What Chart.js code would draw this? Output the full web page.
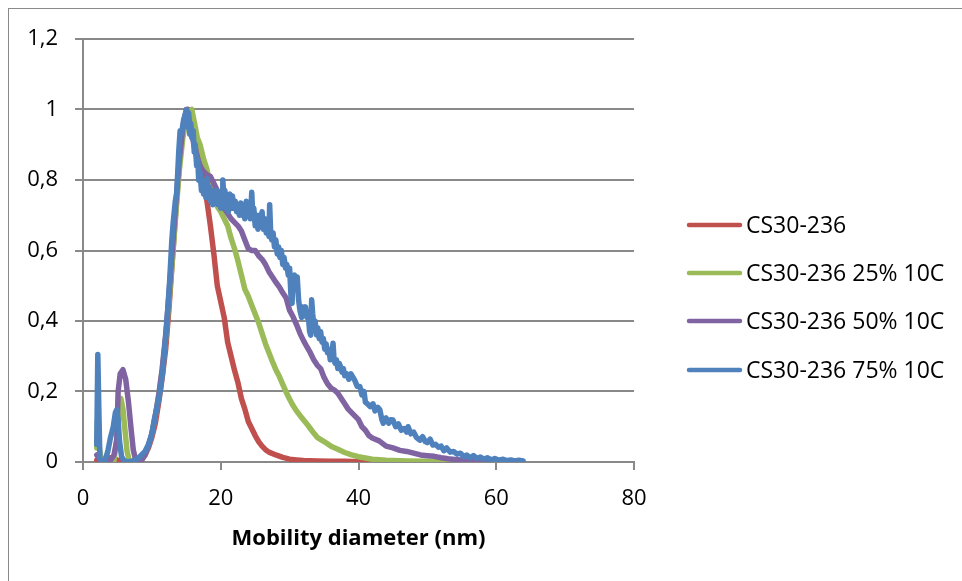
<!DOCTYPE html>
<html>
<head>
<meta charset="utf-8">
<script src="https://cdn.jsdelivr.net/npm/chart.js@4.4.1/dist/chart.umd.min.js"></script>
<style>
  body { margin: 0; background: #fff; }
  #marco { position: absolute; left: 8px; top: 8px; width: 1000px; height: 700px; border: 1px solid #8a8a8a; }
  #grafico { position: absolute; left: 0; top: 0; }
</style>
</head>
<body>
<div id="marco"></div>
<canvas id="grafico" width="962" height="581"></canvas>
<script>
// Etiquetas de las series
const etiquetas = ["CS30-236", "CS30-236 25% 10C", "CS30-236 50% 10C", "CS30-236 75% 10C"];
const colores = ["#C0504D", "#9BBB59", "#8064A2", "#4F81BD"];

// Ejes
const ticksX = [0, 20, 40, 60, 80];
const ticksY = [0, 0.2, 0.4, 0.6, 0.8, 1, 1.2];

// CS30-236
const xRojo = [2, 2.5, 3, 3.5, 4, 4.5, 5, 5.5, 6, 6.5, 7, 7.5, 8, 8.5, 9, 9.5, 10, 10.5, 11, 11.5,
  12, 12.5, 13, 13.5, 14, 14.5, 15, 15.3, 15.6, 16, 16.5, 17, 17.5, 18, 18.5, 19, 19.5, 20, 20.5, 21,
  21.5, 22, 22.5, 23, 23.5, 24, 24.5, 25, 25.5, 26, 26.5, 27, 28, 29, 30, 31, 32, 34, 36, 38, 40, 43, 46, 50];
const yRojo = [0.005, 0.005, 0.008, 0.01, 0.012, 0.01, 0.005, 0.002, 0.001, 0, 0, 0.002, 0.005, 0.01, 0.02, 0.04, 0.07, 0.11, 0.17, 0.24,
  0.32, 0.44, 0.58, 0.72, 0.85, 0.94, 0.99, 1.0, 0.97, 0.94, 0.9, 0.85, 0.79, 0.74, 0.67, 0.59, 0.5, 0.455, 0.41, 0.34,
  0.3, 0.26, 0.225, 0.18, 0.15, 0.115, 0.095, 0.075, 0.058, 0.045, 0.035, 0.028, 0.02, 0.013, 0.008, 0.006, 0.004, 0.003, 0.002, 0.002, 0.001, 0.001, 0, 0];

// CS30-236 25% 10C
const xVerde = [2, 2.1, 2.3, 2.6, 3, 3.5, 4, 4.5, 5, 5.3, 5.5, 5.8, 6.1, 6.4, 6.7, 7, 7.5, 8, 8.5, 9, 9.5,
  10, 10.5, 11, 11.5, 12, 12.5, 13, 13.5, 14, 14.5, 15, 15.5, 15.8, 16.2, 16.6, 17, 17.5, 18, 18.5, 19,
  19.5, 20, 20.5, 21, 21.5, 22, 22.5, 23, 23.5, 24, 24.5, 25, 25.5, 26, 26.5, 27, 27.5, 28, 28.5, 29,
  29.5, 30, 30.5, 31, 31.5, 32, 32.5, 33, 33.5, 34, 35, 36, 37, 38, 39, 40, 42, 44, 47, 50, 55, 58];
const yVerde = [0.04, 0.12, 0.05, 0.01, 0, 0, 0, 0.005, 0.08, 0.16, 0.18, 0.15, 0.09, 0.03, 0.005, 0, 0, 0, 0.005, 0.02, 0.045,
  0.08, 0.13, 0.19, 0.26, 0.35, 0.46, 0.58, 0.71, 0.83, 0.92, 0.97, 0.995, 1.0, 0.96, 0.92, 0.9, 0.86, 0.83, 0.78, 0.75,
  0.725, 0.71, 0.69, 0.67, 0.635, 0.605, 0.57, 0.53, 0.49, 0.47, 0.445, 0.42, 0.395, 0.365, 0.335, 0.31, 0.285, 0.262, 0.243, 0.22,
  0.198, 0.178, 0.16, 0.145, 0.132, 0.12, 0.108, 0.095, 0.082, 0.07, 0.058, 0.045, 0.036, 0.027, 0.02, 0.015, 0.008, 0.005, 0.003, 0.002, 0.001, 0];

// CS30-236 50% 10C
const xMorado = [2, 2.5, 3, 4, 4.5, 4.9, 5.1, 5.4, 5.8, 6.2, 6.6, 7, 7.3, 7.6, 8, 8.5, 9, 9.5, 10, 10.5,
  11, 11.5, 12, 12.5, 13, 13.5, 14, 14.5, 15, 15.4, 15.8, 16.2, 16.6, 17, 17.5, 18, 18.5, 19, 19.5, 20,
  20.5, 21, 21.5, 22, 22.5, 23, 23.5, 24, 24.5, 25, 25.5, 26, 26.5, 27, 27.5, 28, 28.5, 29, 29.5, 30,
  30.5, 31, 31.5, 32, 32.5, 33, 33.5, 34, 34.5, 35, 35.5, 36, 36.5, 37, 37.5, 38, 38.5, 39, 39.5, 40,
  40.5, 41, 41.5, 42, 43, 44, 45, 46, 47, 48, 49, 50, 51, 52, 53, 54, 55, 56, 57, 58, 59];
const yMorado = [0.02, 0.005, 0, 0.005, 0.02, 0.062, 0.2, 0.25, 0.262, 0.235, 0.17, 0.09, 0.034, 0.01, 0.002, 0.005, 0.02, 0.045, 0.08, 0.13,
  0.19, 0.265, 0.36, 0.48, 0.61, 0.74, 0.86, 0.95, 1.0, 0.97, 0.93, 0.89, 0.86, 0.84, 0.824, 0.815, 0.81, 0.79, 0.77, 0.735,
  0.72, 0.705, 0.69, 0.68, 0.67, 0.655, 0.63, 0.605, 0.6, 0.6, 0.585, 0.575, 0.56, 0.54, 0.525, 0.51, 0.497, 0.48, 0.465, 0.43,
  0.412, 0.39, 0.365, 0.345, 0.327, 0.31, 0.29, 0.275, 0.265, 0.24, 0.222, 0.21, 0.204, 0.195, 0.18, 0.165, 0.15, 0.14, 0.13, 0.12,
  0.1, 0.09, 0.075, 0.068, 0.06, 0.045, 0.04, 0.033, 0.03, 0.025, 0.02, 0.018, 0.016, 0.012, 0.009, 0.007, 0.006, 0.004, 0.003, 0.002, 0];

// CS30-236 75% 10C
const xAzul = [2, 2.15, 2.3, 2.45, 2.8, 3.2, 3.6, 4, 4.4, 4.7, 4.9, 5.1, 5.3, 5.6, 6, 6.5, 7, 7.5, 8, 8.5,
  9, 9.5, 10, 10.4, 10.8, 11.2, 11.6, 11.9, 12.2, 12.6, 12.9, 13.1, 13.4, 13.6, 13.9, 14.1, 14.3, 14.6, 14.9,
  15.05, 15.2, 15.35, 15.5, 15.65, 15.8, 16.0, 16.15, 16.3, 16.5,
  16.65, 16.8, 17.0, 17.2, 17.35, 17.5, 17.7, 17.85, 18.0, 18.2,
  18.35, 18.5, 18.7, 18.85, 19.0, 19.2, 19.4, 19.6, 19.8, 20.0,
  20.2, 20.3, 20.45, 20.6, 20.8, 20.95, 21.1, 21.3, 21.5, 21.7,
  21.9, 22.1, 22.3, 22.5, 22.7, 22.9, 23.1, 23.3, 23.5, 23.7,
  23.9, 24.1, 24.3, 24.5, 24.65, 24.8, 25.0, 25.2, 25.4, 25.6,
  25.8, 26.0, 26.2, 26.4, 26.6, 26.8, 27.0, 27.1, 27.25, 27.4,
  27.6, 27.8, 28.0, 28.2, 28.4, 28.6, 28.8, 29.0, 29.2, 29.4,
  29.6, 29.8, 30.0, 30.2, 30.35, 30.5, 30.7, 30.9, 31.1, 31.3,
  31.5, 31.75, 31.9, 32.1, 32.3, 32.5, 32.7, 32.9, 33.05, 33.2,
  33.35, 33.5, 33.7, 33.9, 34.1, 34.3, 34.5, 34.7, 34.9, 35.1,
  35.3, 35.5, 35.7, 35.9, 36.1, 36.3, 36.45, 36.6, 36.8, 37.0,
  37.2, 37.4, 37.6, 37.8, 38.0, 38.3, 38.6, 38.9, 39.2, 39.5,
  39.8, 40.2, 40.5, 40.8, 41.0, 41.3, 41.7, 42.1, 42.4, 42.8,
  43.1, 43.4, 43.6, 44.0, 44.4, 44.7, 45.0, 45.4, 45.8, 46.2,
  46.6, 47.0, 47.2, 47.6, 48.0, 48.4, 48.9, 49.3, 49.7, 50.0,
  50.4, 50.8, 51.2, 51.6, 52.0, 52.4, 52.8, 53.3, 53.8, 54.3,
  54.8, 55.3, 55.7, 56.2, 56.7, 57.2, 57.7, 58.2, 58.7, 59.3,
  59.8, 60.4, 61.0, 61.5, 62.1, 62.7, 63.3, 63.9];
const yAzul = [0.05, 0.305, 0.15, 0.01, 0, 0.005, 0.03, 0.07, 0.1, 0.14, 0.148, 0.12, 0.06, 0.015, 0.003, 0, 0.002, 0.005, 0.01, 0.02,
  0.03, 0.05, 0.08, 0.125, 0.16, 0.2, 0.26, 0.33, 0.4, 0.52, 0.63, 0.68, 0.74, 0.76, 0.88, 0.94, 0.93, 0.97, 0.99,
  1.0, 0.95, 0.99, 0.93, 0.96, 0.92, 0.94, 0.88, 0.9, 0.84,
  0.86, 0.8, 0.82, 0.77, 0.8, 0.76, 0.79, 0.75, 0.805, 0.76,
  0.78, 0.74, 0.77, 0.73, 0.76, 0.74, 0.77, 0.73, 0.75, 0.72,
  0.77, 0.8, 0.75, 0.77, 0.72, 0.74, 0.71, 0.76, 0.72, 0.755,
  0.72, 0.74, 0.71, 0.73, 0.7, 0.735, 0.7, 0.72, 0.69, 0.74,
  0.7, 0.72, 0.69, 0.765, 0.7, 0.72, 0.67, 0.7, 0.66, 0.7,
  0.67, 0.71, 0.66, 0.69, 0.65, 0.68, 0.64, 0.73, 0.65, 0.63,
  0.65, 0.61, 0.63, 0.59, 0.61, 0.58, 0.6, 0.56, 0.58, 0.55,
  0.56, 0.53, 0.55, 0.47, 0.45, 0.52, 0.53, 0.5, 0.525, 0.46,
  0.43, 0.41, 0.44, 0.42, 0.44, 0.41, 0.42, 0.37, 0.36, 0.46,
  0.42, 0.39, 0.4, 0.36, 0.38, 0.35, 0.37, 0.34, 0.35, 0.32,
  0.335, 0.31, 0.32, 0.29, 0.3, 0.337, 0.29, 0.28, 0.29, 0.265,
  0.28, 0.27, 0.255, 0.265, 0.245, 0.25, 0.235, 0.25, 0.24, 0.23,
  0.215, 0.214, 0.19, 0.2, 0.17, 0.165, 0.157, 0.165, 0.145, 0.155,
  0.148, 0.12, 0.11, 0.125, 0.11, 0.12, 0.119, 0.1, 0.108, 0.09,
  0.095, 0.085, 0.1, 0.08, 0.085, 0.07, 0.062, 0.072, 0.058, 0.055,
  0.065, 0.048, 0.05, 0.042, 0.045, 0.032, 0.04, 0.028, 0.03, 0.022,
  0.025, 0.015, 0.02, 0.012, 0.018, 0.01, 0.014, 0.008, 0.012, 0.006,
  0.01, 0.005, 0.008, 0.004, 0.006, 0.003, 0.005, 0.003];

const series = [[xRojo, yRojo], [xVerde, yVerde], [xMorado, yMorado], [xAzul, yAzul]];

function puntos(xs, ys) {
  return xs.map((x, i) => ({ x: x, y: ys[i] }));
}

function formatoComa(v) {
  return String(Number(v.toFixed(1))).replace(".", ",");
}

const fuente = "'Open Sans', sans-serif";
const gris = "#898989";

// leyenda propia, a la derecha del grafico
const leyenda = {
  id: "leyenda",
  afterDraw(chart) {
    const ctx = chart.ctx;
    const filas = [225, 273, 321, 370];
    ctx.save();
    ctx.font = "23px " + fuente;
    ctx.textBaseline = "middle";
    ctx.fillStyle = "#000";
    chart.data.datasets.forEach((ds, i) => {
      ctx.strokeStyle = ds.borderColor;
      ctx.lineWidth = 4.5;
      ctx.lineCap = "round";
      ctx.beginPath();
      ctx.moveTo(689, filas[i]);
      ctx.lineTo(740, filas[i]);
      ctx.stroke();
      ctx.fillText(ds.label, 746, filas[i] + 1);
    });
    ctx.restore();
  },
};

const datasets = series.map((s, i) => ({
  label: etiquetas[i],
  data: puntos(s[0], s[1]),
  borderColor: colores[i],
  backgroundColor: colores[i],
  borderWidth: 5.5,
  pointRadius: 0,
  tension: 0,
  fill: false,
  order: 3 - i,
}));

const canvas = document.getElementById("grafico").getContext("2d");
new Chart(canvas, {
  type: "line",
  data: { datasets },
  plugins: [leyenda],
  options: {
    responsive: false,
    animation: false,
    layout: { padding: { left: 8, top: 39, right: 328, bottom: 0 } },
    plugins: {
      legend: { display: false },
      tooltip: { enabled: false },
    },
    elements: {
      line: { borderJoinStyle: "round", borderCapStyle: "round" },
    },
    scales: {
      x: {
        type: "linear",
        min: ticksX[0],
        max: ticksX[ticksX.length - 1],
        afterBuildTicks: (scale) => {
          scale.ticks = ticksX.map((v) => ({ value: v }));
        },
        afterFit: (scale) => {
          scale.height = 119;
        },
        ticks: {
          color: "#000",
          padding: 16,
          maxRotation: 0,
          font: { family: fuente, size: 22 },
        },
        grid: {
          drawOnChartArea: false,
          tickLength: 8,
          color: gris,
          lineWidth: 2,
        },
        border: { color: gris, width: 2 },
        title: {
          display: true,
          text: "Mobility diameter (nm)",
          color: "#000",
          font: { family: fuente, size: 22, weight: "bold" },
          padding: { top: 0, bottom: 29 },
        },
      },
      y: {
        min: ticksY[0],
        max: ticksY[ticksY.length - 1],
        afterBuildTicks: (scale) => {
          scale.ticks = ticksY.map((v) => ({ value: v }));
        },
        afterFit: (scale) => {
          scale.width = 75;
        },
        ticks: {
          color: "#000",
          padding: 17,
          font: { family: fuente, size: 22 },
          callback: (v) => formatoComa(v),
        },
        grid: {
          tickLength: 8,
          color: gris,
          lineWidth: 2,
        },
        border: { color: gris, width: 2 },
      },
    },
  },
});
</script>
</body>
</html>
